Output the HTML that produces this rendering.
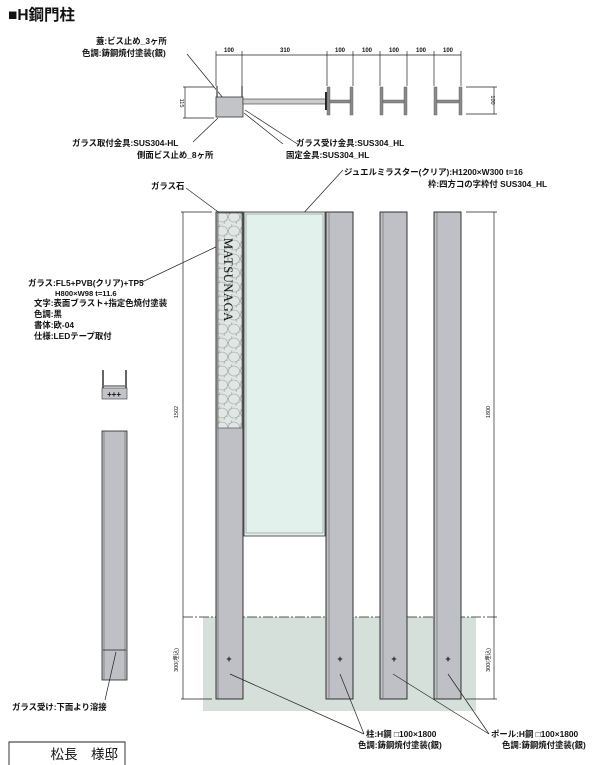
<!DOCTYPE html>
<html><head><meta charset="utf-8"><style>
html,body{margin:0;padding:0;background:#fff;width:606px;height:765px;overflow:hidden}
svg{display:block}
text{font-family:"Liberation Sans","Noto Sans CJK JP",sans-serif;fill:#111}
.l{font-size:8.4px;font-weight:bold}
</style></head><body>
<svg width="606" height="765" viewBox="0 0 606 765" xmlns="http://www.w3.org/2000/svg">
<defs>
<pattern id="stone" width="12" height="14" patternUnits="userSpaceOnUse">
<rect width="12" height="14" fill="#dfe6e4"/>
<ellipse cx="6" cy="7" rx="5.5" ry="5" fill="none" stroke="#9aa3a3" stroke-width="0.6"/>
<ellipse cx="0" cy="0" rx="4" ry="4" fill="none" stroke="#9aa3a3" stroke-width="0.6"/>
<ellipse cx="12" cy="14" rx="4" ry="4" fill="none" stroke="#9aa3a3" stroke-width="0.6"/>
</pattern>
</defs>
<text x="8" y="20" font-size="15.5" font-weight="bold">■H鋼門柱</text>

<text x="96" y="44" class="l">蓋:ビス止め_3ヶ所</text>
<text x="82" y="56" class="l">色調:鋳鋼焼付塗装(銀)</text>
<line x1="187" y1="54" x2="228" y2="104" stroke="#222" stroke-width="0.7"/>
<line x1="216" y1="55" x2="461" y2="55" stroke="#222" stroke-width="0.7"/>
<g stroke="#222" stroke-width="0.7">
<line x1="216" y1="51" x2="216" y2="86"/><line x1="242" y1="51" x2="242" y2="86"/>
<line x1="327" y1="51" x2="327" y2="86"/><line x1="353" y1="51" x2="353" y2="86"/>
<line x1="380" y1="51" x2="380" y2="86"/><line x1="407" y1="51" x2="407" y2="86"/>
<line x1="434" y1="51" x2="434" y2="86"/><line x1="461" y1="51" x2="461" y2="86"/>
</g>
<g font-size="6" text-anchor="middle" font-weight="bold">
<text x="229" y="52">100</text><text x="285" y="52">310</text><text x="340" y="52">100</text>
<text x="367" y="52">100</text><text x="394" y="52">100</text><text x="421" y="52">100</text><text x="448" y="52">100</text>
</g>
<g stroke="#222" stroke-width="0.7">
<line x1="183" y1="87" x2="214" y2="87"/><line x1="183" y1="118" x2="214" y2="118"/>
<line x1="185" y1="87" x2="185" y2="118"/>
</g>
<text transform="translate(180,103) rotate(90)" font-size="5.5" text-anchor="middle">115</text>
<g stroke="#222" stroke-width="0.7">
<line x1="466" y1="87" x2="497" y2="87"/><line x1="466" y1="114" x2="497" y2="114"/>
<line x1="494" y1="87" x2="494" y2="114"/>
</g>
<text transform="translate(491,100) rotate(90)" font-size="5.5" text-anchor="middle">100</text>
<rect x="216" y="86" width="2" height="12" fill="#888"/><rect x="241" y="86" width="2" height="12" fill="#888"/>
<rect x="216" y="97" width="27" height="20" fill="#c3c4c8" stroke="#333" stroke-width="0.8"/>
<rect x="243" y="99" width="84" height="5" fill="#ccc" stroke="#333" stroke-width="0.6"/>
<rect x="325" y="92" width="2" height="18" fill="#222"/>
<g fill="#8a8a8a" stroke="#555" stroke-width="0.4">
<rect x="327" y="87" width="3" height="28"/><rect x="350" y="87" width="3" height="28"/><rect x="330" y="100" width="20" height="3"/>
<rect x="380" y="87" width="3" height="28"/><rect x="404" y="87" width="3" height="28"/><rect x="383" y="100" width="21" height="3"/>
<rect x="434" y="87" width="3" height="28"/><rect x="459" y="87" width="3" height="28"/><rect x="437" y="100" width="22" height="3"/>
</g>
<g stroke="#222" stroke-width="0.7">
<line x1="218" y1="118" x2="193" y2="142"/>
<line x1="244" y1="113" x2="283" y2="144"/>
<line x1="245" y1="110" x2="299" y2="145"/>
</g>
<text x="72" y="146" class="l">ガラス取付金具:SUS304-HL</text>
<text x="137" y="158" class="l">側面ビス止め_8ヶ所</text>
<text x="296" y="146" class="l">ガラス受け金具:SUS304_HL</text>
<text x="286" y="158" class="l">固定金具:SUS304_HL</text>

<text x="344" y="175" class="l">ジュエルミラスター(クリア):H1200×W300 t=16</text>
<text x="428" y="187" class="l">枠:四方コの字枠付 SUS304_HL</text>
<line x1="343" y1="170" x2="289" y2="229" stroke="#222" stroke-width="0.7"/>
<text x="151" y="189" class="l">ガラス石</text>
<line x1="186" y1="188" x2="229" y2="220" stroke="#222" stroke-width="0.7"/>
<text x="28" y="286" class="l">ガラス:FL5+PVB(クリア)+TP5</text>
<text x="55" y="296" class="l" style="font-size:7.6px">H800×W98 t=11.6</text>
<text x="34" y="306" class="l">文字:表面ブラスト+指定色焼付塗装</text>
<text x="34" y="317" class="l">色調:黒</text>
<text x="34" y="328" class="l">書体:欧-04</text>
<text x="34" y="339" class="l">仕様:LEDテープ取付</text>
<line x1="140" y1="283" x2="220" y2="245" stroke="#222" stroke-width="0.7"/>

<rect x="203" y="617" width="273" height="94" fill="#d5e0da"/>
<line x1="183" y1="617" x2="497" y2="617" stroke="#222" stroke-width="0.8" stroke-dasharray="10,2,2,2"/>

<g stroke="#222" stroke-width="0.7">
<line x1="181" y1="212" x2="212" y2="212"/>
<line x1="183" y1="212" x2="183" y2="699"/>
<line x1="181" y1="699" x2="212" y2="699"/>
<line x1="466" y1="212" x2="497" y2="212"/>
<line x1="494" y1="212" x2="494" y2="699"/>
<line x1="466" y1="699" x2="497" y2="699"/>
</g>
<text transform="translate(178,412) rotate(-90)" font-size="5.5" text-anchor="middle">1502</text>
<text transform="translate(490,412) rotate(-90)" font-size="5.5" text-anchor="middle">1800</text>
<text transform="translate(178,660) rotate(-90)" font-size="5.5" text-anchor="middle">300(埋込)</text>
<text transform="translate(490,660) rotate(-90)" font-size="5.5" text-anchor="middle">300(埋込)</text>

<rect x="244" y="212" width="81" height="324" fill="#e2f1ec" stroke="#333" stroke-width="0.8"/>
<rect x="246" y="214" width="77" height="319" fill="none" stroke="#777" stroke-width="0.5"/>
<rect x="216" y="212" width="27" height="487" fill="#bfc0c5" stroke="#222" stroke-width="0.9"/>
<line x1="218" y1="212" x2="218" y2="699" stroke="#444" stroke-width="0.5"/>
<rect x="218" y="213" width="24" height="215" fill="url(#stone)" stroke="#444" stroke-width="0.6"/>
<text transform="translate(224,238) rotate(90)" font-size="12.5" letter-spacing="0.6" style="font-family:'Liberation Serif',serif">MATSUNAGA</text>
<g fill="#bfc0c5" stroke="#222" stroke-width="0.9">
<rect x="326" y="212" width="27" height="487"/>
<rect x="380" y="212" width="27" height="487"/>
<rect x="434" y="212" width="27" height="487"/>
</g>
<g stroke="#666" stroke-width="0.6">
<line x1="329" y1="212" x2="329" y2="699"/><line x1="383" y1="212" x2="383" y2="699"/><line x1="437" y1="212" x2="437" y2="699"/>
</g>
<g font-size="9" text-anchor="middle" font-weight="bold">
<text x="229" y="662">+</text><text x="340" y="662">+</text><text x="394" y="662">+</text><text x="448" y="662">+</text>
<text x="114" y="626">+</text>
</g>
<rect x="102" y="370" width="2" height="18" fill="#666"/><rect x="125" y="370" width="2" height="18" fill="#666"/>
<rect x="104" y="385" width="21" height="2" fill="#999"/>
<rect x="102" y="388" width="25" height="11" fill="#c3c4c8" stroke="#333" stroke-width="0.6"/>
<text x="114" y="397" font-size="8" text-anchor="middle" font-weight="bold">+++</text>
<rect x="102" y="431" width="25" height="249" fill="#bfc0c5" stroke="#222" stroke-width="0.8"/>
<line x1="104" y1="431" x2="104" y2="680" stroke="#555" stroke-width="0.5"/>
<line x1="125" y1="431" x2="125" y2="680" stroke="#555" stroke-width="0.5"/>
<line x1="103" y1="650" x2="126" y2="650" stroke="#222" stroke-width="0.8"/>
<line x1="116" y1="652" x2="105" y2="700" stroke="#222" stroke-width="0.7"/>
<text x="12" y="710" class="l">ガラス受け:下面より溶接</text>

<g stroke="#222" stroke-width="0.7">
<line x1="230" y1="674" x2="364" y2="734"/>
<line x1="340" y1="674" x2="364" y2="734"/>
<line x1="393" y1="674" x2="489" y2="734"/>
<line x1="448" y1="674" x2="489" y2="734"/>
</g>
<text x="366" y="737" class="l">柱:H鋼 □100×1800</text>
<text x="358" y="748" class="l">色調:鋳鋼焼付塗装(銀)</text>
<text x="491" y="737" class="l">ポール:H鋼 □100×1800</text>
<text x="502" y="748" class="l">色調:鋳鋼焼付塗装(銀)</text>

<path d="M9,765 L9,742 L125,742 L125,765" fill="none" stroke="#222" stroke-width="0.9"/>
<text x="118" y="759" font-size="13.5" text-anchor="end">松長　様邸</text>
</svg>
</body></html>
